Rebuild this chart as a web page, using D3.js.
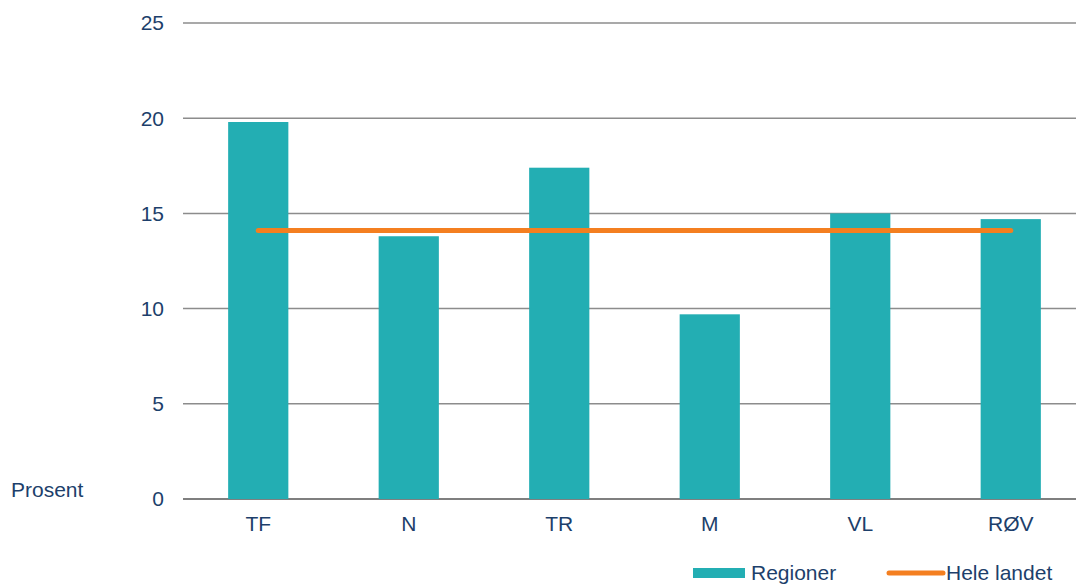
<!DOCTYPE html>
<html>
<head>
<meta charset="utf-8">
<script src="https://cdn.jsdelivr.net/npm/d3@7"></script>
<style>
  body { margin: 0; background: #fff; }
  text { font-family: "Liberation Sans", Arial, sans-serif; fill: #1d3f6b; }
</style>
</head>
<body>
<div id="chart"></div>
<script>
const regions = ["TF", "N", "TR", "M", "VL", "RØV"];
const regionValues = [19.8, 13.8, 17.4, 9.7, 15.0, 14.7];
const nationalValue = 14.1;
const yTicks = [0, 5, 10, 15, 20, 25];

const width = 1076, height = 584;
const fontSize = "21px";

const svg = d3.select("#chart")
  .append("svg")
    .attr("width", width)
    .attr("height", height);

const x = d3.scaleBand()
  .domain(regions)
  .range([183, 1086])
  .paddingInner(0.6)
  .paddingOuter(0.3);

const y = d3.scaleLinear()
  .domain([0, 25])
  .range([499, 23]);

// gridlines
svg.append("g")
  .selectAll("line")
  .data(yTicks)
  .join("line")
    .attr("x1", 183)
    .attr("x2", width)
    .attr("y1", d => y(d))
    .attr("y2", d => y(d))
    .attr("stroke", d => d === 0 ? "#7f7f7f" : "#8c8c8c")
    .attr("stroke-width", d => d === 0 ? 2 : 1.5);

// y labels
svg.append("g")
  .selectAll("text")
  .data(yTicks)
  .join("text")
    .attr("x", 164)
    .attr("y", d => y(d))
    .attr("dy", "0.35em")
    .attr("text-anchor", "end")
    .style("font-size", fontSize)
    .text(d => d);

svg.append("text")
  .attr("x", 11)
  .attr("y", 497)
  .style("font-size", fontSize)
  .text("Prosent");

// bars
svg.append("g")
  .selectAll("rect")
  .data(regions.map((r, i) => ({ region: r, value: regionValues[i] })))
  .join("rect")
    .attr("x", d => x(d.region))
    .attr("y", d => y(d.value))
    .attr("width", x.bandwidth())
    .attr("height", d => y(0) - y(d.value))
    .attr("fill", "#23aeb3");

// x labels
svg.append("g")
  .selectAll("text")
  .data(regions)
  .join("text")
    .attr("x", d => x(d) + x.bandwidth() / 2)
    .attr("y", 531)
    .attr("text-anchor", "middle")
    .style("font-size", fontSize)
    .text(d => d);

// national line
const line = d3.line()
  .x(d => x(d) + x.bandwidth() / 2)
  .y(() => y(nationalValue));

svg.append("path")
  .datum(regions)
  .attr("d", line)
  .attr("fill", "none")
  .attr("stroke", "#f47f20")
  .attr("stroke-width", 5)
  .attr("stroke-linecap", "round");

// legend
const legend = svg.append("g");
legend.append("rect")
  .attr("x", 693).attr("y", 568)
  .attr("width", 52).attr("height", 10)
  .attr("fill", "#23aeb3");
legend.append("text")
  .attr("x", 751).attr("y", 580)
  .style("font-size", fontSize)
  .text("Regioner");
legend.append("line")
  .attr("x1", 889).attr("x2", 943)
  .attr("y1", 573).attr("y2", 573)
  .attr("stroke", "#f47f20")
  .attr("stroke-width", 5)
  .attr("stroke-linecap", "round");
legend.append("text")
  .attr("x", 946).attr("y", 580)
  .style("font-size", fontSize)
  .text("Hele landet");
</script>
</body>
</html>
